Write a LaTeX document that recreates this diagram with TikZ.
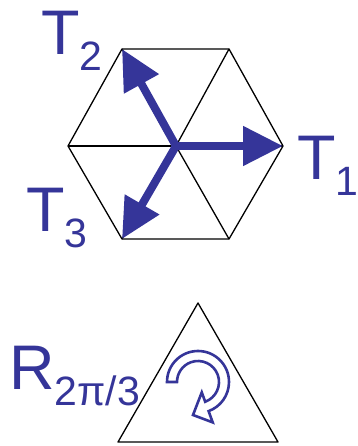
\documentclass[tikz,border=0pt]{standalone}
\usepackage{fontspec}
\setmainfont{Liberation Sans}
\usetikzlibrary{arrows.meta,calc}
\definecolor{gblue}{RGB}{53,53,153}
\newcommand{\lblsub}[1]{\raisebox{-16pt}{\fontsize{41}{41}\selectfont #1}}

\begin{document}
\begin{tikzpicture}[x=1pt,y=1pt,
  edge/.style={line width=1.3pt,black},
  gen/.style={-{Triangle[length=40pt,width=38pt]},line width=8pt,gblue},
  lbl/.style={inner sep=0pt,anchor=base west,gblue,
    font=\fontsize{63}{70}\selectfont}]
\useasboundingbox (0,0) rectangle (357,446);

% hexagon (y up, px units)
\coordinate (o) at (176,300);
\coordinate (v1) at (283,300);
\coordinate (v2) at (229,397);
\coordinate (v3) at (122,397);
\coordinate (v4) at (68,300);
\coordinate (v5) at (122,207);
\coordinate (v6) at (229,207);
\draw[edge,line join=round] (v1) -- (v2) -- (v3) -- (v4) -- (v5) -- (v6) -- cycle;
\foreach \i in {1,...,6} \draw[edge] (o) -- (v\i);

% translations
\draw[gen] (o) -- (v1);
\draw[gen] (o) -- (v3);
\draw[gen] (o) -- (v5);
\node[lbl] (t1) at (297,266) {T\lblsub{1}};
\node[lbl] (t2) at (41,391) {T\lblsub{2}};
\node[lbl] (t3) at (26,214) {T\lblsub{3}};

% triangle with rotation
\coordinate (a) at (198,143);
\coordinate (b) at (118,4);
\coordinate (c) at (278,4);
\draw[edge,line join=round] (a) -- (b) -- (c) -- cycle;
\coordinate (rc) at (198,64);
\draw[gblue,line width=2.6pt,fill=white,line join=miter]
  ($(rc)+(180:31)$) arc[start angle=180,end angle=-70,radius=31]
  -- ($(rc)+(-70:43)$) -- (193,31) -- ($(rc)+(-70:11)$)
  -- ($(rc)+(-70:21)$) arc[start angle=-70,end angle=180,radius=21]
  -- cycle;
\node[lbl] (r) at (9,56) {R\lblsub{2π/3}};
\end{tikzpicture}
\end{document}
